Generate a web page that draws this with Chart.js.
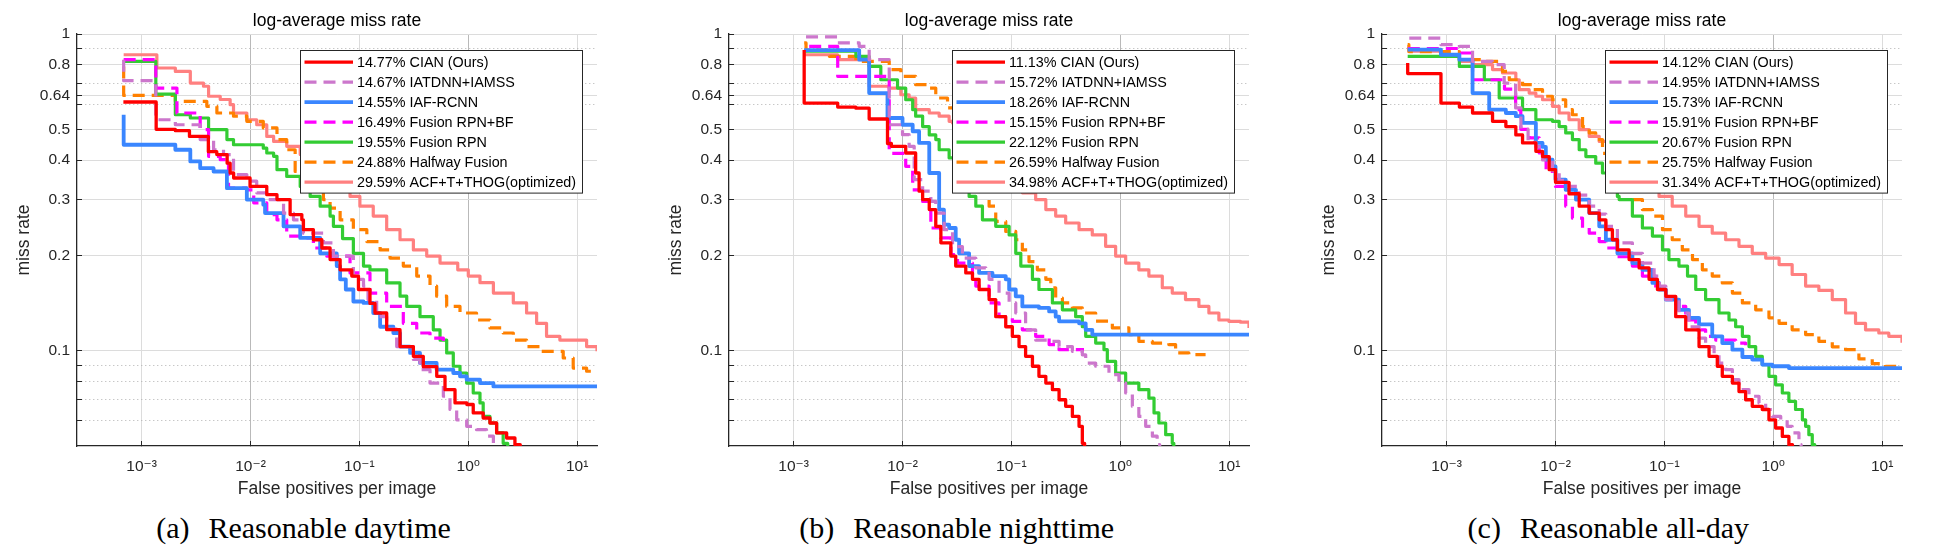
<!DOCTYPE html>
<html><head><meta charset="utf-8">
<script src="https://cdn.jsdelivr.net/npm/chart.js@4.4.1/dist/chart.umd.min.js"></script>
<style>
html,body{margin:0;padding:0;background:#fff;width:1943px;height:554px;overflow:hidden;position:relative;}
canvas{position:absolute;top:0;}
.cap{position:absolute;top:513px;line-height:30px;font-family:"Liberation Serif","Times New Roman",serif;font-size:30px;color:#000;white-space:nowrap;transform:translateX(-50%);}
.cap .gap{display:inline-block;width:19px;}
</style></head>
<body>
<canvas id="ca" width="636" height="510" style="left:0px"></canvas>
<canvas id="cb" width="636" height="510" style="left:652px"></canvas>
<canvas id="cc" width="636" height="510" style="left:1305px"></canvas>
<div class="cap" style="left:303.5px">(a)<span class="gap"></span>Reasonable daytime</div>
<div class="cap" style="left:956.7px">(b)<span class="gap"></span>Reasonable nighttime</div>
<div class="cap" style="left:1608.3px">(c)<span class="gap"></span>Reasonable all-day</div>
<script>
// ---------- labels / ticks ----------
const TITLE = 'log-average miss rate';
const XLABEL = 'False positives per image';
const YLABEL = 'miss rate';
const METHODS = ['CIAN (Ours)','IATDNN+IAMSS','IAF-RCNN','Fusion RPN+BF','Fusion RPN','Halfway Fusion','ACF+T+THOG(optimized)'];
const SCORES_A = ['14.77%','14.67%','14.55%','16.49%','19.55%','24.88%','29.59%'];
const SCORES_B = ['11.13%','15.72%','18.26%','15.15%','22.12%','26.59%','34.98%'];
const SCORES_C = ['14.12%','14.95%','15.73%','15.91%','20.67%','25.75%','31.34%'];
const X_TICKS = [1e-3,1e-2,1e-1,1,10];
const X_TICK_LABELS = ['10\u207B\u00B3','10\u207B\u00B2','10\u207B\u00B9','10\u2070','10\u00B9'];
const Y_TICKS = [0.06,0.07,0.08,0.09,0.1,0.2,0.3,0.4,0.5,0.6,0.64,0.7,0.8,0.9,1];
const Y_TICK_LABELS = ['','','','','0.1','0.2','0.3','0.4','0.5','','0.64','','0.8','','1'];
const X_MIN = 2.55e-4, X_MAX = 15.2, Y_MIN = 0.05, Y_MAX = 1;

// ---------- (a) Reasonable daytime : [fppi, miss rate] ----------
const A_CIAN = [[6.8e-4,0.61],[1.36e-3,0.50],[2.04e-3,0.495],[2.75e-3,0.475],[4.1e-3,0.425],[4.9e-3,0.416],[6.1e-3,0.391],[6.5e-3,0.364],[7.0e-3,0.351],[9.9e-3,0.330],[0.0141,0.311],[0.0175,0.300],[0.0231,0.269],[0.0296,0.259],[0.0306,0.241],[0.0378,0.224],[0.0452,0.211],[0.0538,0.194],[0.0665,0.180],[0.0851,0.172],[0.098,0.156],[0.125,0.141],[0.139,0.1315],[0.178,0.1165],[0.236,0.103],[0.313,0.096],[0.386,0.089],[0.513,0.083],[0.611,0.0753],[0.755,0.0684],[0.97,0.0676],[1.11,0.0636],[1.37,0.0613],[1.58,0.0591],[1.82,0.055],[2.25,0.053],[2.68,0.0505],[3.0,0.048]];
const A_IATDNN = [[6.84e-4,0.83],[6.84e-4,0.712],[1.35e-3,0.536],[2.04e-3,0.517],[3.45e-3,0.464],[4.58e-3,0.431],[5.65e-3,0.416],[6.98e-3,0.360],[9.25e-3,0.343],[0.0114,0.315],[0.0141,0.300],[0.0201,0.272],[0.0248,0.259],[0.0306,0.235],[0.0467,0.219],[0.0577,0.199],[0.088,0.172],[0.0946,0.168],[0.109,0.160],[0.12,0.145],[0.144,0.128],[0.178,0.117],[0.220,0.103],[0.313,0.0938],[0.360,0.0871],[0.445,0.079],[0.590,0.0718],[0.679,0.0652],[0.782,0.0605],[0.966,0.0577],[1.19,0.0563],[1.47,0.0537],[1.70,0.050],[1.8,0.048]];
const A_IAF = [[6.84e-4,0.556],[6.84e-4,0.447],[2.04e-3,0.431],[2.80e-3,0.396],[3.45e-3,0.377],[4.58e-3,0.368],[6.07e-3,0.326],[9.25e-3,0.300],[0.0131,0.289],[0.0136,0.272],[0.0201,0.247],[0.0286,0.227],[0.0436,0.203],[0.0619,0.185],[0.0665,0.168],[0.075,0.156],[0.088,0.143],[0.109,0.1415],[0.134,0.1315],[0.155,0.119],[0.205,0.1137],[0.236,0.103],[0.292,0.0984],[0.360,0.0915],[0.512,0.0871],[0.728,0.085],[0.839,0.083],[0.966,0.081],[1.28,0.079],[1.70,0.0771],[15.2,0.0771]];
const A_RPNBF = [[6.84e-4,0.83],[1.35e-3,0.675],[2.11e-3,0.563],[3.45e-3,0.499],[4.12e-3,0.411],[5.27e-3,0.401],[6.28e-3,0.382],[6.28e-3,0.326],[9.25e-3,0.322],[0.0107,0.293],[0.0141,0.269],[0.0175,0.259],[0.0215,0.230],[0.0286,0.227],[0.0378,0.211],[0.0501,0.199],[0.082,0.176],[0.125,0.152],[0.178,0.138],[0.253,0.122],[0.336,0.1137],[0.445,0.1096],[0.590,0.1057]];
const A_RPN = [[6.84e-4,0.820],[1.35e-3,0.646],[2.04e-3,0.556],[2.8e-3,0.543],[4.12e-3,0.499],[6.07e-3,0.464],[6.98e-3,0.447],[0.0131,0.436],[0.0141,0.421],[0.0163,0.411],[0.0175,0.373],[0.0215,0.355],[0.0286,0.330],[0.0353,0.307],[0.0436,0.286],[0.0538,0.266],[0.0577,0.247],[0.07,0.226],[0.088,0.203],[0.109,0.185],[0.125,0.180],[0.178,0.1636],[0.236,0.1486],[0.272,0.138],[0.360,0.128],[0.477,0.1164],[0.550,0.108],[0.633,0.0984],[0.728,0.0893],[0.839,0.085],[0.966,0.079],[1.11,0.0735],[1.28,0.0684],[1.37,0.062],[1.58,0.0591],[1.82,0.055],[2.09,0.051],[2.3,0.048]];
const A_HALF = [[6.84e-4,0.79],[6.84e-4,0.64],[2.04e-3,0.613],[3.97e-3,0.591],[4.91e-3,0.563],[6.98e-3,0.550],[9.25e-3,0.530],[0.0131,0.505],[0.0175,0.464],[0.0215,0.431],[0.0257,0.421],[0.0257,0.368],[0.0467,0.300],[0.0538,0.282],[0.0665,0.259],[0.088,0.241],[0.117,0.221],[0.155,0.208],[0.191,0.196],[0.253,0.185],[0.336,0.172],[0.445,0.160],[0.512,0.1486],[0.633,0.138],[0.839,0.1315],[1.19,0.125],[1.58,0.118],[2.09,0.1137],[2.59,0.108],[3.43,0.103],[4.54,0.0995],[6.03,0.0995],[7.44,0.0948],[9.19,0.0881],[12.2,0.0861],[15.2,0.0861]];
const A_ACF = [[6.84e-4,0.86],[1.38e-3,0.781],[2.04e-3,0.762],[2.80e-3,0.700],[3.7e-3,0.684],[4.12e-3,0.636],[5.27e-3,0.621],[6.5e-3,0.598],[6.98e-3,0.563],[9.25e-3,0.536],[0.0114,0.517],[0.0141,0.475],[0.0163,0.458],[0.0215,0.442],[0.0286,0.416],[0.082,0.307],[0.101,0.286],[0.134,0.266],[0.178,0.241],[0.236,0.224],[0.313,0.208],[0.415,0.199],[0.55,0.189],[0.8,0.180],[1.0,0.172],[1.28,0.164],[1.70,0.152],[2.59,0.1415],[3.43,0.1315],[4.24,0.122],[5.23,0.111],[6.93,0.108],[9.86,0.108],[12.2,0.103],[15.2,0.0995]];

// ---------- (b) Reasonable nighttime ----------
const B_CIAN = [[1.25e-3,0.89],[1.25e-3,0.605],[2.54e-3,0.588],[3.73e-3,0.583],[4.94e-3,0.539],[7.28e-3,0.451],[7.9e-3,0.442],[0.0107,0.421],[0.0132,0.364],[0.0142,0.319],[0.0153,0.300],[0.0176,0.279],[0.0202,0.247],[0.0225,0.219],[0.0278,0.199],[0.0308,0.185],[0.0381,0.176],[0.0439,0.168],[0.0505,0.156],[0.0624,0.145],[0.0718,0.128],[0.0887,0.119],[0.102,0.111],[0.1175,0.103],[0.135,0.096],[0.156,0.0893],[0.179,0.083],[0.207,0.079],[0.238,0.0753],[0.274,0.070],[0.315,0.0667],[0.363,0.062],[0.418,0.0577],[0.448,0.051],[0.47,0.048]];
const B_IATDNN = [[1.30e-3,0.98],[2.54e-3,0.937],[4.0e-3,0.914],[4.94e-3,0.83],[7.55e-3,0.517],[0.01,0.481],[0.0115,0.442],[0.0128,0.347],[0.0153,0.319],[0.0182,0.296],[0.0202,0.272],[0.0241,0.241],[0.0288,0.213],[0.0355,0.196],[0.0471,0.1825],[0.0582,0.178],[0.0624,0.168],[0.077,0.152],[0.0953,0.1415],[0.1096,0.1315],[0.135,0.1164],[0.167,0.108],[0.222,0.107],[0.274,0.103],[0.363,0.0995],[0.448,0.097],[0.481,0.0914],[0.594,0.0893],[0.787,0.084],[0.972,0.079],[1.12,0.0735],[1.29,0.0667],[1.48,0.062],[1.71,0.0577],[1.97,0.0537],[2.18,0.0505],[2.3,0.048]];
const B_IAF = [[1.25e-3,0.89],[4.0e-3,0.83],[4.94e-3,0.651],[7.28e-3,0.543],[0.01,0.517],[0.0124,0.493],[0.0142,0.453],[0.0176,0.364],[0.0217,0.338],[0.0217,0.279],[0.024,0.25],[0.0268,0.244],[0.0308,0.224],[0.0331,0.203],[0.0409,0.185],[0.0505,0.176],[0.067,0.172],[0.0887,0.168],[0.0953,0.156],[0.1096,0.1485],[0.126,0.138],[0.179,0.1365],[0.222,0.133],[0.255,0.128],[0.274,0.1238],[0.418,0.122],[0.481,0.1164],[0.553,0.1124],[15.2,0.1124]];
const B_RPNBF = [[1.39e-3,0.914],[2.54e-3,0.735],[7.55e-3,0.42],[0.0107,0.382],[0.0124,0.322],[0.0153,0.296],[0.0182,0.244],[0.0225,0.227],[0.0278,0.201],[0.032,0.189],[0.0439,0.172],[0.0471,0.16],[0.0624,0.1415],[0.077,0.128],[0.102,0.1238],[0.126,0.1164],[0.167,0.111],[0.222,0.1045],[0.274,0.1007],[0.464,0.1007]];
const B_RPN = [[1.25e-3,0.882],[3.73e-3,0.85],[4.94e-3,0.79],[6.32e-3,0.717],[9.0e-3,0.675],[0.0107,0.62],[0.0124,0.577],[0.0132,0.55],[0.0153,0.51],[0.0176,0.48],[0.0202,0.464],[0.0217,0.431],[0.0268,0.406],[0.032,0.387],[0.0409,0.307],[0.0471,0.286],[0.0542,0.259],[0.0718,0.247],[0.0953,0.232],[0.1096,0.203],[0.122,0.185],[0.156,0.168],[0.179,0.156],[0.238,0.1415],[0.294,0.1346],[0.389,0.128],[0.448,0.119],[0.481,0.111],[0.594,0.1057],[0.708,0.1007],[0.76,0.0925],[0.906,0.085],[1.12,0.079],[1.48,0.0753],[1.83,0.0708],[2.04,0.0636],[2.26,0.0591],[2.61,0.0543],[3.0,0.051],[3.1,0.048]];
const B_HALF = [[1.25e-3,0.937],[1.3e-3,0.89],[2.13e-3,0.85],[3.73e-3,0.82],[7.55e-3,0.772],[9.66e-3,0.735],[0.0132,0.692],[0.0169,0.675],[0.0202,0.628],[0.0259,0.584],[0.0624,0.286],[0.0718,0.256],[0.0887,0.238],[0.1096,0.224],[0.126,0.208],[0.145,0.191],[0.173,0.180],[0.207,0.168],[0.23,0.158],[0.255,0.1466],[0.294,0.1415],[0.363,0.1365],[0.448,0.1315],[0.594,0.124],[0.845,0.118],[1.0,0.118],[1.2,0.1124],[1.48,0.107],[1.97,0.1057],[2.79,0.1045],[3.22,0.0984],[4.26,0.0971],[6.07,0.0971]];
const B_ACF = [[1.25e-3,0.86],[2.54e-3,0.83],[4.94e-3,0.684],[7.55e-3,0.675],[9.66e-3,0.643],[0.0115,0.628],[0.0132,0.577],[0.0176,0.563],[0.0217,0.55],[0.0268,0.53],[0.0288,0.524],[0.126,0.315],[0.167,0.300],[0.207,0.279],[0.255,0.266],[0.315,0.253],[0.418,0.241],[0.553,0.232],[0.733,0.2135],[0.906,0.199],[1.12,0.189],[1.48,0.180],[1.83,0.172],[2.43,0.158],[3.0,0.152],[3.97,0.145],[5.27,0.138],[6.51,0.1315],[8.04,0.125],[9.93,0.1238],[12.7,0.123],[15.2,0.118]];

// ---------- (c) Reasonable all-day ----------
const C_CIAN = [[4.39e-4,0.81],[4.39e-4,0.75],[8.87e-4,0.605],[1.31e-3,0.588],[1.73e-3,0.563],[2.64e-3,0.53],[3.5e-3,0.51],[4.32e-3,0.48],[4.98e-3,0.453],[6.6e-3,0.426],[7.6e-3,0.41],[8.75e-3,0.373],[0.01,0.34],[0.0133,0.313],[0.0165,0.286],[0.0204,0.272],[0.0252,0.259],[0.029,0.241],[0.0333,0.224],[0.037,0.208],[0.0474,0.194],[0.0586,0.1825],[0.0723,0.168],[0.0863,0.156],[0.103,0.1485],[0.127,0.128],[0.157,0.1164],[0.208,0.103],[0.257,0.096],[0.306,0.0893],[0.340,0.083],[0.421,0.079],[0.484,0.0743],[0.557,0.070],[0.641,0.0667],[0.792,0.0652],[0.912,0.0605],[1.05,0.057],[1.21,0.0536],[1.39,0.0505],[1.5,0.048]];
const C_IATDNN = [[4.54e-4,0.971],[8.87e-4,0.925],[1.31e-3,0.914],[1.73e-3,0.82],[2.64e-3,0.80],[3.38e-3,0.70],[4.3e-3,0.584],[4.81e-3,0.50],[5.6e-3,0.455],[6.6e-3,0.44],[7.6e-3,0.40],[9.4e-3,0.37],[0.0108,0.345],[0.0133,0.33],[0.0165,0.31],[0.0204,0.286],[0.0252,0.27],[0.029,0.247],[0.037,0.219],[0.0508,0.203],[0.0628,0.189],[0.0804,0.172],[0.09,0.16],[0.103,0.145],[0.136,0.1315],[0.168,0.119],[0.208,0.1096],[0.239,0.103],[0.286,0.097],[0.317,0.0914],[0.365,0.0871],[0.421,0.081],[0.484,0.0753],[0.598,0.0718],[0.739,0.0684],[0.851,0.0652],[0.98,0.062],[1.17,0.0605],[1.34,0.0577],[1.49,0.055],[1.72,0.0505],[1.8,0.048]];
const C_IAF = [[4.39e-4,0.892],[8.87e-4,0.86],[1.31e-3,0.83],[1.73e-3,0.651],[2.46e-3,0.577],[3.5e-3,0.563],[4.32e-3,0.55],[4.98e-3,0.524],[6.6e-3,0.453],[7.6e-3,0.44],[8.15e-3,0.401],[9.38e-3,0.382],[0.01,0.347],[0.0124,0.322],[0.0154,0.300],[0.0204,0.272],[0.0252,0.247],[0.029,0.224],[0.037,0.203],[0.0508,0.189],[0.0628,0.180],[0.0776,0.1636],[0.0893,0.156],[0.103,0.145],[0.136,0.1346],[0.168,0.127],[0.208,0.121],[0.275,0.111],[0.340,0.1057],[0.421,0.1007],[0.520,0.0955],[0.641,0.0937],[0.792,0.0904],[0.98,0.0893],[1.39,0.0881],[15.2,0.0881]];
const C_RPNBF = [[4.4e-4,0.90],[1.31e-3,0.871],[1.73e-3,0.717],[3.4e-3,0.67],[4.3e-3,0.577],[4.8e-3,0.50],[5.73e-3,0.47],[7.08e-3,0.421],[8.2e-3,0.368],[0.01,0.33],[0.0124,0.286],[0.0143,0.262],[0.0177,0.244],[0.0204,0.235],[0.0252,0.221],[0.029,0.211],[0.037,0.198],[0.0508,0.185],[0.0628,0.172],[0.0832,0.156],[0.103,0.1466],[0.127,0.138],[0.157,0.125],[0.194,0.1164],[0.239,0.111],[0.296,0.108],[0.365,0.108],[0.451,0.1057],[0.557,0.104]];
const C_RPN = [[4.39e-4,0.85],[1.31e-3,0.79],[2.22e-3,0.717],[3.04e-3,0.628],[4.98e-3,0.577],[6.6e-3,0.536],[9.38e-3,0.53],[0.0108,0.51],[0.0124,0.487],[0.0143,0.464],[0.0165,0.431],[0.019,0.41],[0.0234,0.391],[0.027,0.364],[0.037,0.307],[0.0384,0.300],[0.0508,0.266],[0.0628,0.244],[0.0776,0.230],[0.096,0.208],[0.110,0.194],[0.136,0.185],[0.163,0.172],[0.194,0.156],[0.239,0.145],[0.317,0.1315],[0.392,0.125],[0.451,0.119],[0.520,0.111],[0.598,0.103],[0.689,0.096],[0.792,0.0904],[0.912,0.083],[1.05,0.078],[1.21,0.0735],[1.39,0.0692],[1.60,0.0652],[1.85,0.0605],[1.98,0.0577],[2.12,0.0543],[2.28,0.0505],[2.4,0.048]];
const C_HALF = [[4.39e-4,0.925],[4.5e-4,0.88],[1.31e-3,0.83],[2.14e-3,0.82],[3.26e-3,0.762],[3.76e-3,0.717],[4.98e-3,0.692],[6.15e-3,0.667],[7.6e-3,0.636],[9.38e-3,0.62],[0.0124,0.577],[0.0143,0.556],[0.0177,0.51],[0.0204,0.487],[0.0234,0.464],[0.027,0.42],[0.0508,0.300],[0.0628,0.279],[0.0776,0.266],[0.096,0.241],[0.118,0.224],[0.146,0.208],[0.181,0.194],[0.223,0.180],[0.275,0.172],[0.340,0.1636],[0.421,0.152],[0.520,0.1415],[0.689,0.1346],[0.912,0.127],[1.13,0.122],[1.49,0.1164],[1.98,0.1124],[2.62,0.107],[3.48,0.1028],[4.61,0.1007],[6.11,0.0942],[8.1,0.091],[10.7,0.0893],[15.2,0.0893]];
const C_ACF = [[4.39e-4,0.882],[8.87e-4,0.85],[1.31e-3,0.82],[1.73e-3,0.80],[2.64e-3,0.772],[3.26e-3,0.753],[4.32e-3,0.717],[4.64e-3,0.667],[5.73e-3,0.651],[6.6e-3,0.636],[7.6e-3,0.62],[9.38e-3,0.591],[0.0108,0.563],[0.0133,0.536],[0.0165,0.499],[0.0204,0.475],[0.0252,0.458],[0.0893,0.307],[0.118,0.286],[0.157,0.266],[0.208,0.247],[0.275,0.235],[0.365,0.224],[0.484,0.2135],[0.641,0.203],[0.851,0.196],[1.13,0.187],[1.49,0.174],[1.98,0.160],[2.62,0.155],[3.48,0.145],[4.61,0.1315],[5.69,0.122],[7.03,0.1164],[9.31,0.1137],[11.5,0.111],[15.2,0.106]];

// ---------- styles ----------
const FONT = '"Liberation Sans", Arial, Helvetica, "DejaVu Sans", sans-serif';
const STYLE = [
  {color:'#ff0000', width:3.3, dash:[]},
  {color:'#cc77cc', width:3.2, dash:[12,7]},
  {color:'#3a86ff', width:3.8, dash:[]},
  {color:'#ff00ff', width:3.2, dash:[12,7]},
  {color:'#33cc33', width:3.2, dash:[]},
  {color:'#ff8000', width:3.2, dash:[12,7]},
  {color:'#ff8080', width:3.2, dash:[]}
];
const AXIS_COLOR = '#262626';

const titlePlugin = {
  id:'mTitle',
  afterDraw(chart){
    const a = chart.chartArea, c = chart.ctx;
    c.save();
    c.font = '17.5px ' + FONT; c.fillStyle = '#000';
    c.textAlign = 'center'; c.textBaseline = 'alphabetic';
    c.fillText(TITLE, (a.left + a.right) / 2, 26);
    c.restore();
  }
};
const legendPlugin = {
  id:'boxLegend',
  afterDatasetsDraw(chart){
    const a = chart.chartArea, c = chart.ctx;
    const W = 282, H = 142.6;
    const x0 = Math.round(a.right - 15.3 - W) + 0.5, y0 = Math.round(a.top + 16.4) + 0.5;
    c.save();
    c.fillStyle = '#fff'; c.fillRect(x0, y0, W, H);
    c.strokeStyle = AXIS_COLOR; c.lineWidth = 1; c.setLineDash([]); c.strokeRect(x0, y0, W, H);
    chart.data.datasets.forEach((d, i) => {
      const cy = y0 + 11.6 + 20 * i;
      c.beginPath(); c.setLineDash(d.borderDash || []);
      c.strokeStyle = d.borderColor; c.lineWidth = d.borderWidth;
      c.moveTo(x0 + 4, cy); c.lineTo(x0 + 52.5, cy); c.stroke();
      c.setLineDash([]);
      c.fillStyle = '#000'; c.font = '14.35px ' + FONT;
      c.textAlign = 'left'; c.textBaseline = 'middle';
      c.fillText(d.label, x0 + 56.4, cy + 0.5);
    });
    c.restore();
  }
};

function makeChart(id, series, scores){
  const datasets = series.map((pts, i) => ({
    label: scores[i] + ' ' + METHODS[i],
    data: pts.map(p => ({x: p[0], y: p[1]})),
    borderColor: STYLE[i].color, borderWidth: STYLE[i].width, borderDash: STYLE[i].dash,
    stepped: true, pointRadius: 0, pointHoverRadius: 0, fill: false, tension: 0, clip: 0,
    borderJoinStyle: 'round'
  }));
  return new Chart(document.getElementById(id), {
    type: 'line',
    data: {datasets},
    options: {
      responsive: false, animation: false, devicePixelRatio: 1, events: [],
      layout: {padding: {left: 0, right: 39, top: 34, bottom: 0}},
      plugins: {legend: {display: false}, tooltip: {enabled: false}, title: {display: false}},
      scales: {
        x: {
          type: 'logarithmic', position: 'bottom', min: X_MIN, max: X_MAX,
          afterBuildTicks: s => { s.ticks = X_TICKS.map(v => ({value: v})); },
          afterFit: s => { s.height = 64; },
          ticks: {autoSkip: false, maxRotation: 0, padding: 16.4, color: AXIS_COLOR,
                  font: {family: FONT, size: 15.5},
                  callback: v => { const k = X_TICKS.indexOf(v); return k >= 0 ? X_TICK_LABELS[k] : ''; }},
          grid: {color: ctx => { if (!ctx.tick) return '#dcdcdc'; const e = Math.round(Math.log10(ctx.tick.value)); return (e % 2 === 0) ? '#b9b9b9' : '#dcdcdc'; },
                 lineWidth: 1, tickLength: -5, tickColor: AXIS_COLOR, tickWidth: 1},
          border: {color: AXIS_COLOR, width: 1.3},
          title: {display: true, text: XLABEL, color: AXIS_COLOR, font: {family: FONT, size: 17.5}, padding: {top: 0, bottom: 10}}
        },
        y: {
          type: 'logarithmic', position: 'left', min: Y_MIN, max: Y_MAX,
          afterBuildTicks: s => { s.ticks = Y_TICKS.map(v => ({value: v})); },
          afterFit: s => { s.width = 77; },
          ticks: {autoSkip: false, padding: 12, color: AXIS_COLOR, font: {family: FONT, size: 15.5},
                  callback: v => { const k = Y_TICKS.indexOf(v); return k >= 0 ? Y_TICK_LABELS[k] : ''; }},
          grid: {color: ctx => { if (!ctx.tick) return '#dcdcdc'; const k = Y_TICKS.indexOf(ctx.tick.value); return Y_TICK_LABELS[k] === '' ? '#b0b0b0' : '#dcdcdc'; },
                 lineWidth: 1, tickLength: -5, tickColor: AXIS_COLOR, tickWidth: 1},
          border: {color: AXIS_COLOR, width: 1.3,
                   dash: ctx => { if (!ctx.tick) return []; const k = Y_TICKS.indexOf(ctx.tick.value); return Y_TICK_LABELS[k] === '' ? [1, 3] : []; }},
          title: {display: true, text: YLABEL, color: AXIS_COLOR, font: {family: FONT, size: 17.5}, padding: {top: 13.5, bottom: 0}}
        }
      }
    },
    plugins: [titlePlugin, legendPlugin]
  });
}

makeChart('ca', [A_CIAN, A_IATDNN, A_IAF, A_RPNBF, A_RPN, A_HALF, A_ACF], SCORES_A);
makeChart('cb', [B_CIAN, B_IATDNN, B_IAF, B_RPNBF, B_RPN, B_HALF, B_ACF], SCORES_B);
makeChart('cc', [C_CIAN, C_IATDNN, C_IAF, C_RPNBF, C_RPN, C_HALF, C_ACF], SCORES_C);
</script>
</body></html>
